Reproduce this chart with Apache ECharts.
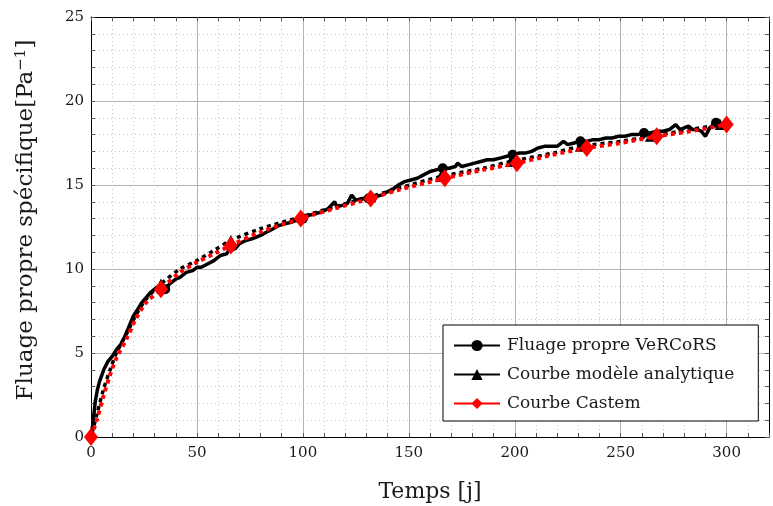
<!DOCTYPE html>
<html>
<head>
<meta charset="utf-8">
<script src="https://cdn.jsdelivr.net/npm/echarts@6/dist/echarts.min.js"></script>
<style>html,body{margin:0;padding:0;background:#fff}#c{width:773px;height:506px}</style>
</head>
<body>
<div id="c"></div>
<script>
// ---- data ----
const seriesNames = ['Fluage propre VeRCoRS', 'Courbe modèle analytique', 'Courbe Castem'];
const xTickLabels = [0, 50, 100, 150, 200, 250, 300];
const yTickLabels = [0, 5, 10, 15, 20, 25];

const vercorsDays = [0,1,2,3,4,6,8,10,12,14,16,18,20,22,24,26,28,31,33,35,37,40,42,45,48,50,52,55,58,61,64,66,68,70,73,76,80,83,86,89,92,95,98,100,103,106,109,112,115,116,119,121,123,125,128,131,134,137,140,143,145,148,151,154,157,160,163,166,169,172,173,175,178,181,184,187,190,193,196,199,202,205,208,211,214,217,220,223,225,228,231,234,237,240,243,246,249,252,255,258,261,264,267,270,273,276,278,280,282,284,286,288,290,292,295];
const vercorsValues = [0,0.9,2.1,2.8,3.3,4.0,4.5,4.8,5.2,5.5,6.0,6.6,7.2,7.6,8.0,8.3,8.6,8.9,8.9,8.8,9.1,9.4,9.5,9.8,9.9,10.1,10.1,10.3,10.5,10.8,10.9,11.3,11.2,11.5,11.7,11.8,12.0,12.2,12.4,12.6,12.7,12.8,13.0,13.0,13.2,13.3,13.4,13.6,14.0,13.7,13.8,13.9,14.4,14.1,14.2,14.2,14.3,14.4,14.6,14.8,15.0,15.2,15.3,15.4,15.6,15.8,15.9,16.0,16.0,16.1,16.3,16.1,16.2,16.3,16.4,16.5,16.5,16.6,16.7,16.8,16.9,16.9,17.0,17.2,17.3,17.3,17.3,17.6,17.4,17.5,17.6,17.6,17.7,17.7,17.8,17.8,17.9,17.9,18.0,18.0,18.1,18.1,18.2,18.2,18.3,18.6,18.3,18.4,18.5,18.3,18.3,18.2,17.9,18.4,18.7];
const vercorsMarkerDays = [35, 66, 100, 131, 166, 199, 231, 261, 295];

const analyticDays = [0,2.7,5.8,9,12,17,21,26,33,42,50,58,66,80,99,115,132,145,165,185,198,218,231,250,264,283,297];
const analyticValues = [0,1.3,2.8,4.0,5.0,6.2,7.2,8.2,9.1,10.0,10.5,11.1,11.7,12.4,13.1,13.7,14.3,14.8,15.5,16.0,16.4,16.9,17.3,17.6,17.9,18.3,18.6];
const analyticMarkerDays = [33, 66, 99, 132, 165, 198, 231, 264, 297];

const castemDays = [0,2.7,5.8,9,12,17,21,26,33,42,50,58,66,80,99,115,132,145,167,185,201,218,234,250,267,283,300];
const castemValues = [0,1.0,2.4,3.7,4.7,5.9,7.0,8.0,8.8,9.8,10.4,10.9,11.4,12.2,13.0,13.6,14.2,14.7,15.4,15.9,16.3,16.8,17.2,17.5,17.9,18.2,18.6];
const castemMarkerDays = [0, 33, 66, 99, 132, 167, 201, 234, 267, 300];

function build(days, vals, markers) {
  return days.map((d, i) => markers.indexOf(d) >= 0
    ? { value: [d, vals[i]] }
    : { value: [d, vals[i]], symbol: 'none' });
}

const SERIF = 'DejaVu Serif';
const TXT = '#1a1a1a';
const minorGrid = { show: true, lineStyle: { color: '#c4c4c4', type: [1, 3], width: 1 } };
const majorGrid = { show: true, lineStyle: { color: '#b4b4b4', type: 'solid', width: 1 } };

const chart = echarts.init(document.getElementById('c'), null, { renderer: 'canvas' });
chart.setOption({
  animation: false,
  backgroundColor: '#fff',
  grid: { left: 91, top: 17, right: 4, bottom: 69, containLabel: false, outerBoundsMode: 'none' },
  xAxis: [
    { type: 'value', position: 'bottom', min: 0, max: 320, interval: 10,
      axisLine: { show: true, onZero: false, lineStyle: { color: '#000', width: 1 } },
      axisTick: { show: true, inside: true, length: 4, lineStyle: { color: '#555' } },
      axisLabel: { show: true, margin: 9, fontFamily: SERIF, fontSize: 15, color: TXT,
        formatter: v => (xTickLabels.indexOf(v) >= 0 ? String(v) : '') },
      splitLine: minorGrid,
      name: 'Temps [j]', nameLocation: 'middle', nameGap: 44,
      nameTextStyle: { fontFamily: SERIF, fontSize: 22, color: TXT } },
    { type: 'value', position: 'top', min: 0, max: 320, interval: 10,
      axisLine: { show: true, onZero: false, lineStyle: { color: '#000', width: 1 } },
      axisTick: { show: true, inside: true, length: 4, lineStyle: { color: '#555' } },
      axisLabel: { show: false }, splitLine: { show: false } },
    { type: 'value', position: 'bottom', min: 0, max: 320, interval: 50,
      axisLine: { show: false }, axisTick: { show: false }, axisLabel: { show: false },
      splitLine: majorGrid }
  ],
  yAxis: [
    { type: 'value', position: 'left', min: 0, max: 25, interval: 1,
      axisLine: { show: true, onZero: false, lineStyle: { color: '#000', width: 1 } },
      axisTick: { show: true, inside: true, length: 4, lineStyle: { color: '#555' } },
      axisLabel: { show: true, margin: 7, fontFamily: SERIF, fontSize: 15, color: TXT,
        formatter: v => (yTickLabels.indexOf(v) >= 0 ? String(v) : '') },
      splitLine: minorGrid,
      name: 'Fluage propre spécifique[Pa{sup|−1}]', nameLocation: 'middle', nameGap: 52, nameRotate: 90,
      nameTextStyle: { fontFamily: SERIF, fontSize: 23, color: TXT, padding: [0, 0, 0, 14],
        rich: { sup: { fontFamily: SERIF, fontSize: 15, color: TXT, verticalAlign: 'top', padding: [0, 0, 10, 0] } } } },
    { type: 'value', position: 'right', min: 0, max: 25, interval: 1,
      axisLine: { show: true, onZero: false, lineStyle: { color: '#000', width: 1 } },
      axisTick: { show: true, inside: true, length: 4, lineStyle: { color: '#555' } },
      axisLabel: { show: false }, splitLine: { show: false } },
    { type: 'value', position: 'left', min: 0, max: 25, interval: 5,
      axisLine: { show: false }, axisTick: { show: false }, axisLabel: { show: false },
      splitLine: majorGrid }
  ],
  legend: {
    orient: 'vertical', left: 443, top: 325,
    padding: [12, 24, 9, 10], itemGap: 12, itemWidth: 46, itemHeight: 14,
    backgroundColor: '#fff', borderColor: '#000', borderWidth: 1,
    textStyle: { fontFamily: SERIF, fontSize: 17, color: TXT, padding: [0, 0, 0, 2] },
    data: [
      { name: seriesNames[0] },
      { name: seriesNames[1], lineStyle: { type: 'solid' } },
      { name: seriesNames[2], lineStyle: { type: 'solid' } }
    ]
  },
  series: [
    { name: seriesNames[0], type: 'line', xAxisIndex: 0, yAxisIndex: 0,
      data: build(vercorsDays, vercorsValues, vercorsMarkerDays),
      symbol: 'circle', symbolSize: 10, showSymbol: true,
      lineStyle: { color: '#000', width: 3.5 }, itemStyle: { color: '#000' }, z: 3 },
    { name: seriesNames[1], type: 'line', xAxisIndex: 0, yAxisIndex: 0, smooth: 0.3,
      data: build(analyticDays, analyticValues, analyticMarkerDays),
      symbol: 'triangle', symbolSize: 11, showSymbol: true,
      lineStyle: { color: '#000', width: 3.5, type: [4, 4], dashOffset: 4, cap: 'butt' },
      itemStyle: { color: '#000' }, z: 4 },
    { name: seriesNames[2], type: 'line', xAxisIndex: 0, yAxisIndex: 0, smooth: 0.3,
      data: build(castemDays, castemValues, castemMarkerDays),
      symbol: 'diamond', symbolSize: [14, 18], showSymbol: true,
      lineStyle: { color: '#ff0000', width: 4, type: [4, 4], cap: 'butt' }, itemStyle: { color: '#ff0000' }, z: 5 }
  ]
});
</script>
</body>
</html>
